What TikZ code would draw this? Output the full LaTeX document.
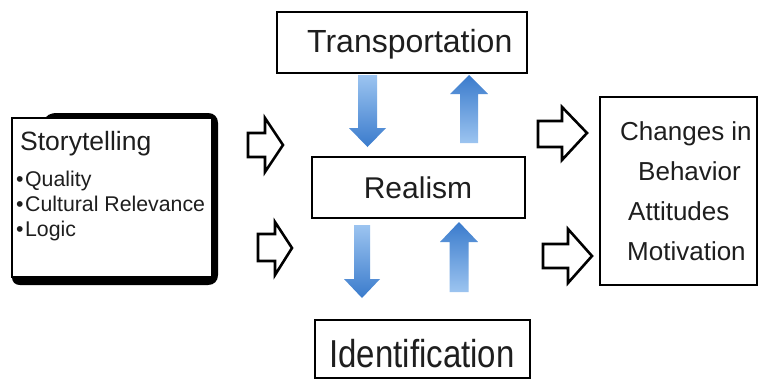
\documentclass[tikz,border=0pt]{standalone}
\usepackage{fontspec}
\setmainfont{Liberation Sans}
\definecolor{txt}{HTML}{1E1E1E}
\definecolor{bluelight}{HTML}{9CC4F0}
\definecolor{bluedark}{HTML}{3A7BCC}
\begin{document}
\begin{tikzpicture}[x=1pt,y=-1pt,
  box/.style={draw=black,line width=2.6pt,fill=white},
  outarrow/.style={draw=black,line width=2.6pt,fill=white,line join=miter},
  downblue/.style={top color=bluelight,bottom color=bluedark},
  upblue/.style={top color=bluedark,bottom color=bluelight},
  lbl/.style={inner sep=0pt,text=txt}]
\useasboundingbox (0,0) rectangle (761,381);
\fill[white] (0,0) rectangle (761,381);

% Storytelling box with shadow
\fill[black] (44,121) .. controls (46,115) and (50,113) .. (58,113) -- (208,113)
  .. controls (214,113) and (218,117) .. (218,123) -- (218,275)
  .. controls (218,281) and (214,285) .. (208,285) -- (20,285)
  .. controls (15,285) and (12,282) .. (12,277) -- cycle;
\draw[box] (12,118) rectangle (212,277);
\coordinate (story) at (112,197);
\node[lbl,anchor=base west,font=\fontsize{26.5}{31}\selectfont] (st) at (20,150) {Storytelling};
\node[lbl,anchor=base west,font=\fontsize{21.3}{25}\selectfont] (b1) at (16,186) {\textbullet\hspace{1.5pt}Quality};
\node[lbl,anchor=base west,font=\fontsize{21.3}{25}\selectfont] (b2) at (16,211) {\textbullet\hspace{1.5pt}Cultural Relevance};
\node[lbl,anchor=base west,font=\fontsize{21.3}{25}\selectfont] (b3) at (16,236) {\textbullet\hspace{1.5pt}Logic};

% Boxes
\draw[box] (277,12) rectangle (527,73);
\node[lbl,anchor=base west,font=\fontsize{32}{38}\selectfont] (trans) at (307,52) {Transportation};
\draw[box] (312,157) rectangle (525,218);
\node[lbl,anchor=base,font=\fontsize{30}{36}\selectfont] (real) at (418,198) {Realism};
\draw[box] (315,320) rectangle (530,378);
\node[lbl,anchor=base,font=\fontsize{33}{40}\selectfont] (ident) at (422,367) {\scalebox{1}[1.18]{Identification}};
\draw[box] (600,97) rectangle (757,285);
\node[lbl,anchor=base west,font=\fontsize{26}{31}\selectfont] (o1) at (620,140) {Changes in};
\node[lbl,anchor=base west,font=\fontsize{26}{31}\selectfont] (o2) at (638,180) {Behavior};
\node[lbl,anchor=base west,font=\fontsize{26}{31}\selectfont] (o3) at (628,220) {Attitudes};
\node[lbl,anchor=base west,font=\fontsize{26}{31}\selectfont] (o4) at (627,260) {Motivation};

% Outline arrows
\draw[outarrow] (248,133) -- (265,133) -- (265,118) -- (283,145) -- (265,172) -- (265,157) -- (248,157) -- cycle;
\draw[outarrow] (258,234) -- (275,234) -- (275,222) -- (292,248) -- (275,275) -- (275,261) -- (258,261) -- cycle;
\draw[outarrow] (538,121) -- (562,121) -- (562,107) -- (587,133) -- (562,160) -- (562,147) -- (538,147) -- cycle;
\draw[outarrow] (543,244) -- (568,244) -- (568,229) -- (592,256) -- (568,283) -- (568,268) -- (543,268) -- cycle;

% Blue arrows
\shade[downblue] (358,75) -- (377,75) -- (377,128) -- (386,128) -- (367.5,147) -- (349,128) -- (358,128) -- cycle;
\shade[upblue] (469,75) -- (488,94) -- (478,94) -- (478,143) -- (460,143) -- (460,94) -- (450,94) -- cycle;
\shade[downblue] (354,225) -- (370,225) -- (370,279) -- (380,279) -- (362,298) -- (344,279) -- (354,279) -- cycle;
\shade[upblue] (459,222) -- (478,242) -- (468.5,242) -- (468.5,292) -- (449.5,292) -- (449.5,242) -- (440,242) -- cycle;
\end{tikzpicture}
\end{document}
